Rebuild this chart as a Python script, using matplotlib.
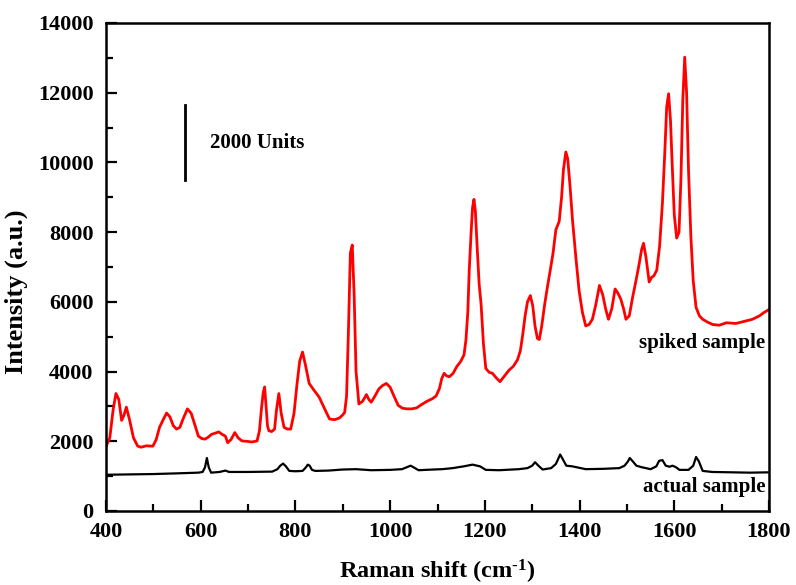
import matplotlib
matplotlib.use("Agg")
import matplotlib.pyplot as plt
from matplotlib.ticker import MultipleLocator

# Spiked sample (red) spectrum
spiked_x = [400, 408, 415, 421, 427, 433, 438, 443, 450, 458, 467, 474, 485, 499, 506, 513, 520,
            528, 535, 542, 549, 556, 563, 572, 580, 588, 595, 602, 609, 616, 623, 630, 638, 645,
            652, 657, 664, 672, 679, 687, 697, 708, 719, 724, 728, 732, 735, 738, 741, 744, 750,
            756, 760, 765, 770, 776, 783, 790, 797, 803, 809, 815, 821, 829, 840, 850, 861, 872,
            883, 893, 900, 904, 908, 912, 916, 920, 924, 928, 934, 942, 950, 955, 960, 968, 976,
            984, 992, 1000, 1008, 1017, 1026, 1035, 1046, 1056, 1066, 1078, 1089, 1097, 1104, 1109,
            1114, 1119, 1125, 1133, 1141, 1149, 1156, 1160, 1164, 1167, 1171, 1174, 1177, 1180,
            1184, 1188, 1192, 1197, 1202, 1209, 1216, 1224, 1232, 1240, 1251, 1260, 1269, 1275,
            1280, 1285, 1290, 1296, 1301, 1306, 1311, 1315, 1320, 1326, 1332, 1338, 1344, 1350,
            1357, 1362, 1366, 1371, 1375, 1380, 1385, 1392, 1399, 1406, 1413, 1420, 1427, 1434,
            1442, 1449, 1455, 1461, 1468, 1475, 1481, 1487, 1493, 1498, 1505, 1512, 1519, 1526,
            1531, 1535, 1540, 1547, 1552, 1557, 1563, 1569, 1575, 1580, 1584, 1588, 1592, 1596,
            1600, 1605, 1610, 1614, 1618, 1622, 1626, 1630, 1635, 1640, 1646, 1653, 1660, 1670,
            1681, 1695, 1710, 1730, 1750, 1765, 1780, 1790, 1801]
spiked_y = [1850, 2100, 2900, 3370, 3200, 2600, 2750, 2980, 2600, 2100, 1860, 1830, 1870, 1860, 2050,
            2400, 2600, 2810, 2700, 2450, 2350, 2400, 2650, 2930, 2800, 2450, 2150, 2080, 2060, 2120,
            2200, 2230, 2270, 2200, 2150, 1960, 2050, 2250, 2100, 2010, 2000, 1980, 2010, 2300, 2900,
            3400, 3560, 3000, 2450, 2300, 2280, 2350, 2900, 3370, 2800, 2400, 2350, 2350, 2800, 3600,
            4300, 4560, 4200, 3660, 3450, 3270, 2950, 2640, 2620, 2670, 2760, 2830, 3300, 5200, 7400,
            7630, 6200, 4000, 3070, 3150, 3340, 3200, 3120, 3300, 3500, 3600, 3660, 3550, 3300, 3030,
            2950, 2930, 2930, 2960, 3050, 3150, 3220, 3300, 3510, 3800, 3950, 3880, 3850, 3950, 4150,
            4290, 4480, 4900, 5700, 6900, 8000, 8700, 8940, 8600, 7500, 6500, 5940, 4800, 4090, 3980,
            3950, 3820, 3710, 3850, 4040, 4150, 4340, 4600, 5060, 5600, 6000, 6180, 5900, 5300, 4950,
            4920, 5300, 5900, 6420, 6900, 7400, 8070, 8310, 9000, 9800, 10300, 10100, 9300, 8360, 7300,
            6320, 5700, 5310, 5350, 5500, 5900, 6470, 6200, 5800, 5500, 5800, 6370, 6250, 6080, 5800,
            5500, 5600, 6130, 6600, 7100, 7500, 7680, 7300, 6570, 6700, 6750, 6910, 7600, 8850, 10300,
            11600, 11970, 11200, 9800, 8500, 7830, 8000, 9500, 11800, 13020, 12000, 9800, 7880, 6600,
            5840, 5600, 5500, 5420, 5350, 5330, 5400, 5380, 5450, 5500, 5600, 5700, 5790]

# Actual sample (black) spectrum
actual_x = [400, 450, 500, 550, 595, 604, 609, 613, 617, 622, 640, 652, 660, 700, 751, 762, 768, 774,
            780, 787, 800, 815, 822, 826, 830, 835, 842, 870, 900, 928, 960, 1000, 1025, 1036, 1043,
            1050, 1060, 1091, 1110, 1132, 1155, 1174, 1190, 1202, 1230, 1272, 1290, 1300, 1306, 1313,
            1322, 1340, 1350, 1355, 1359, 1364, 1372, 1385, 1413, 1450, 1484, 1495, 1502, 1506, 1512,
            1520, 1530, 1550, 1562, 1568, 1575, 1582, 1590, 1596, 1603, 1611, 1630, 1640, 1646, 1652,
            1660, 1680, 1720, 1760, 1801]
actual_y = [1040, 1050, 1060, 1080, 1100, 1120, 1250, 1520, 1250, 1100, 1120, 1160, 1120, 1120, 1130,
            1200, 1300, 1360, 1280, 1150, 1140, 1150, 1250, 1330, 1300, 1180, 1150, 1160, 1190, 1200,
            1170, 1180, 1200, 1260, 1300, 1250, 1170, 1190, 1200, 1230, 1280, 1330, 1280, 1180, 1170,
            1200, 1230, 1300, 1400, 1300, 1190, 1230, 1350, 1500, 1620, 1500, 1300, 1280, 1200, 1210,
            1230, 1300, 1420, 1520, 1430, 1300, 1260, 1200, 1280, 1440, 1460, 1300, 1270, 1300, 1260,
            1180, 1180, 1300, 1550, 1420, 1150, 1120, 1110, 1100, 1110]

xticks = [400, 600, 800, 1000, 1200, 1400, 1600, 1800]
yticks = [0, 2000, 4000, 6000, 8000, 10000, 12000, 14000]

plt.rcParams['font.family'] = ['Liberation Serif', 'DejaVu Serif']
plt.rcParams['font.weight'] = 'bold'
plt.rcParams['mathtext.fontset'] = 'custom'
plt.rcParams['mathtext.rm'] = 'Liberation Serif:bold'
plt.rcParams['mathtext.default'] = 'rm'

fig = plt.figure(figsize=(7.96, 5.85), dpi=100)
ax = fig.add_axes([106 / 796, 1 - 511 / 585, (769 - 106) / 796, (511 - 23) / 585])

ax.plot(spiked_x, spiked_y, color='#ff0000', lw=2.0)
ax.plot(actual_x, actual_y, color='black', lw=1.6)

ax.set_xlim(400, 1800)
ax.set_ylim(0, 14000)
ax.set_xticks(xticks)
ax.set_yticks(yticks)
ax.xaxis.set_minor_locator(MultipleLocator(100))
ax.yaxis.set_minor_locator(MultipleLocator(1000))
ax.tick_params(which='both', direction='in', top=False, right=False, width=1.6)
ax.tick_params(which='major', length=8, labelsize=16)
ax.tick_params(axis='x', which='major', pad=8)
ax.tick_params(axis='y', which='major', pad=9)
ax.tick_params(which='minor', length=5)
for lbl in ax.get_xticklabels() + ax.get_yticklabels():
    lbl.set_fontweight('bold')
for s in ax.spines.values():
    s.set_linewidth(1.8)

ax.set_xlabel('Raman shift (cm$^{\\text{-1}}$)', fontsize=17.5, fontweight='bold', labelpad=11)
ax.set_ylabel('Intensity (a.u.)', fontsize=19, fontweight='bold', va='center')
ax.yaxis.set_label_coords(-0.136, 0.449)

# Scale bar
ax.plot([567, 567], [9500, 11650], color='black', lw=2)
ax.text(620, 10550, '2000 Units', fontsize=15, fontweight='bold', va='center', ha='left')
ax.text(1792, 4830, 'spiked sample', fontsize=15, fontweight='bold', va='center', ha='right')
ax.text(1792, 690, 'actual sample', fontsize=15, fontweight='bold', va='center', ha='right')

fig.savefig('out.png', dpi=100)
